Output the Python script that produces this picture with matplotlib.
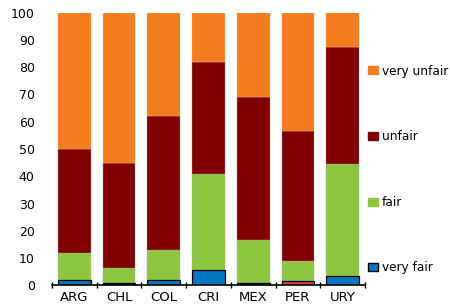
import matplotlib
matplotlib.use("Agg")
import matplotlib.pyplot as plt
import numpy as np
from matplotlib.patches import Patch

countries = ["ARG", "CHL", "COL", "CRI", "MEX", "PER", "URY"]
very_fair = [2, 1, 2, 5.5, 1, 1.5, 3.5]
fair = [10, 5.5, 11, 35.5, 15.5, 7.5, 41]
unfair = [38, 38.5, 49, 41, 52.5, 47.5, 43]
very_unfair = [50, 55, 38, 18, 31, 43.5, 13]

c_vf = "#0077C0"
c_vf_hl = "#E03A3E"
c_fair = "#8DC63F"
c_unfair = "#800000"
c_vu = "#F47D20"

plt.rcParams['font.family'] = ['DejaVu Sans']
fig = plt.figure(figsize=(4.5, 3.04), dpi=100)
ax = fig.add_axes([52/450, 1-285.3/304, (365-52)/450, (285.3-12.7)/304])

x = np.arange(len(countries))
w = 0.73
vf = np.array(very_fair); fa = np.array(fair); un = np.array(unfair); vu = np.array(very_unfair)
vf_colors = [c_vf_hl if c == "PER" else c_vf for c in countries]
ax.bar(x, vf, w, color=vf_colors, edgecolor="black", linewidth=0.9, zorder=3)
ax.bar(x, fa, w, bottom=vf, color=c_fair, edgecolor="#b0b0a0", linewidth=0.3)
ax.bar(x, un, w, bottom=vf+fa, color=c_unfair, edgecolor="#b09090", linewidth=0.3)
ax.bar(x, vu, w, bottom=vf+fa+un, color=c_vu, edgecolor="#f0b080", linewidth=0.3)

ax.set_xlim(-0.5, len(countries)-0.5)
ax.set_ylim(0, 100)
ax.set_yticks(range(0, 101, 10))
ax.set_xticks(x)
ax.set_xticklabels(countries)
ax.set_xticks(np.arange(-0.5, len(countries), 1), minor=True)
ax.tick_params(axis='y', length=0, pad=12.5, labelsize=9)
ax.tick_params(axis='x', which='major', length=0, pad=4, labelsize=9.5)
ax.tick_params(axis='x', which='minor', length=4, direction='inout', width=1)
for s in ["top", "right", "left"]:
    ax.spines[s].set_visible(False)
ax.spines["bottom"].set_linewidth(1.2)
ax.spines["bottom"].set_zorder(4)

handles = [Patch(facecolor=c_vu, edgecolor=c_vu),
           Patch(facecolor=c_unfair, edgecolor=c_unfair),
           Patch(facecolor=c_fair, edgecolor=c_fair),
           Patch(facecolor=c_vf, edgecolor="black")]
labels = ["very unfair", "unfair", "fair", "very fair"]
leg = ax.legend(handles, labels, loc="center left", bbox_to_anchor=(368/450, 1-169.5/304),
                bbox_transform=fig.transFigure,
                frameon=False, fontsize=8.7, labelspacing=4.35,
                handlelength=0.8, handleheight=0.65, handletextpad=0.35,
                borderaxespad=0, borderpad=0)

fig.savefig("out.png", dpi=100)
